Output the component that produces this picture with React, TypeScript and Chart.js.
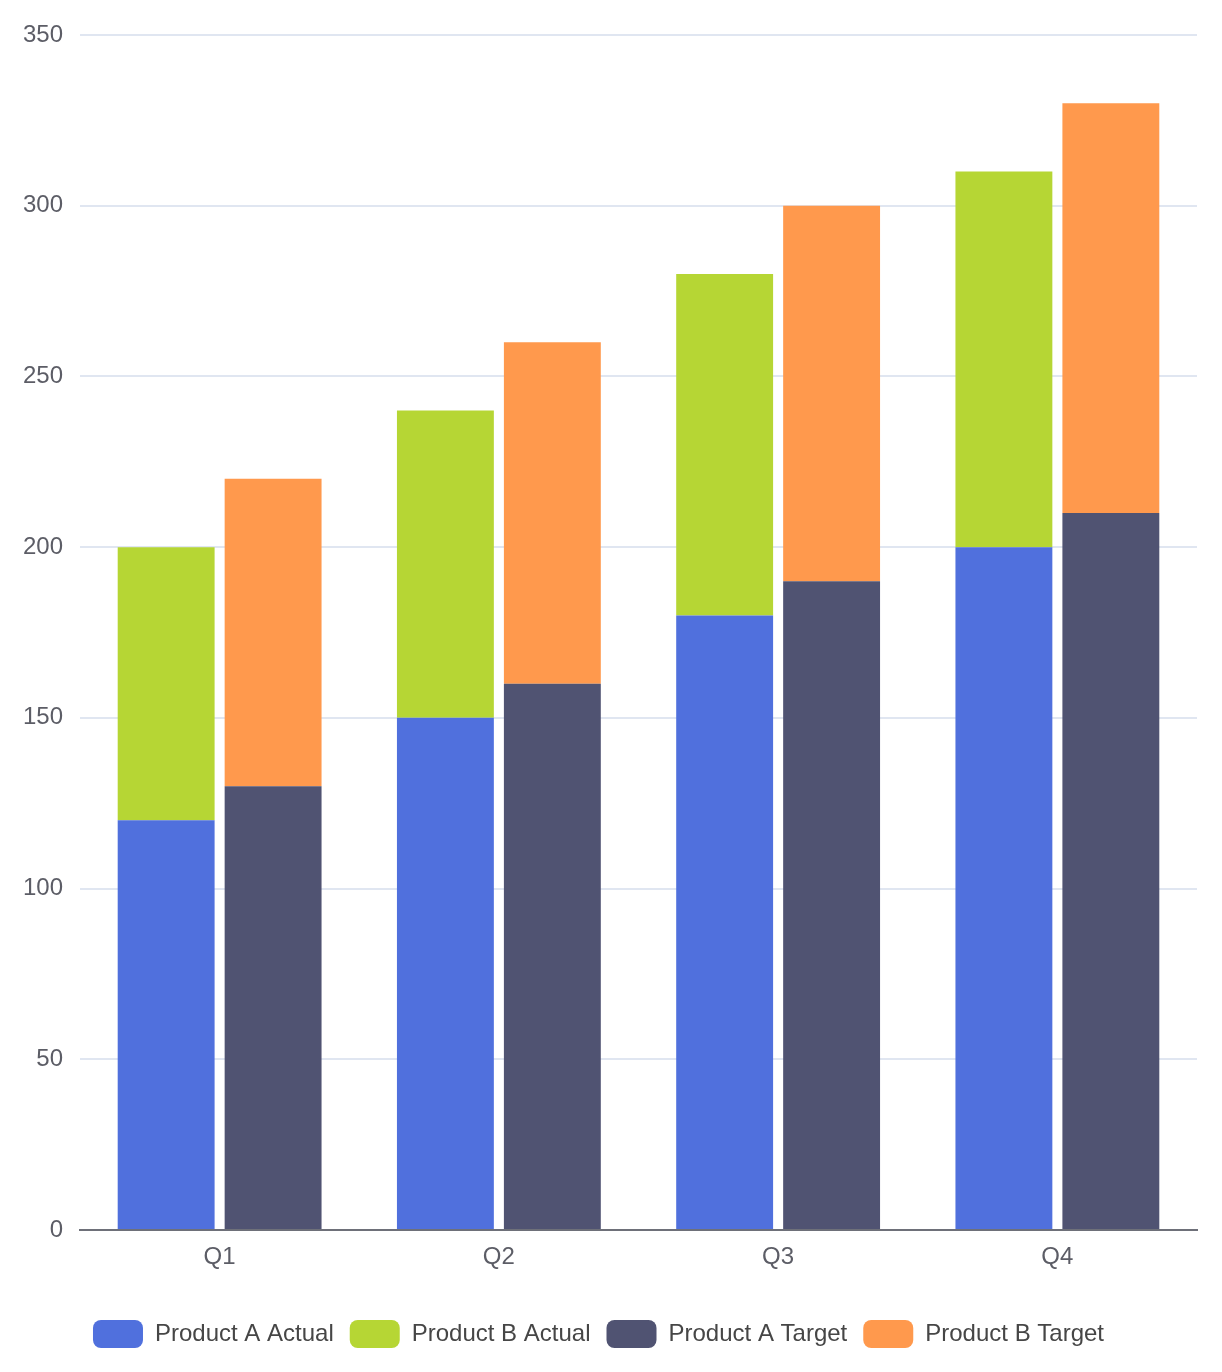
import { useEffect, useRef } from "react";
import { Chart, registerables } from "chart.js";

Chart.register(...registerables);

const quarters = ["Q1", "Q2", "Q3", "Q4"];
const productAActual = [120, 150, 180, 200];
const productBActual = [80, 90, 100, 110];
const productATarget = [130, 160, 190, 210];
const productBTarget = [90, 100, 110, 120];

const FONT = "'Liberation Sans', Arial, Helvetica, sans-serif";

const App = () => {
  const canvasRef = useRef<HTMLCanvasElement | null>(null);

  useEffect(() => {
    if (!canvasRef.current) return;
    const ctx = canvasRef.current.getContext("2d");
    if (!ctx) return;

    const chart = new Chart(ctx, {
      type: "bar",
      data: {
        labels: quarters,
        datasets: [
          {
            label: "Product A Actual",
            data: productAActual,
            backgroundColor: "#5070dd",
            stack: "actual",
          },
          {
            label: "Product B Actual",
            data: productBActual,
            backgroundColor: "#b6d634",
            stack: "actual",
          },
          {
            label: "Product A Target",
            data: productATarget,
            backgroundColor: "#505372",
            stack: "target",
          },
          {
            label: "Product B Target",
            data: productBTarget,
            backgroundColor: "#ff994d",
            stack: "target",
          },
        ],
      },
      options: {
        animation: false,
        responsive: true,
        maintainAspectRatio: false,
        categoryPercentage: 0.766,
        barPercentage: 0.906,
        layout: {
          padding: { top: 35, right: 25, bottom: 14, left: 0 },
        },
        plugins: {
          tooltip: { enabled: false },
          legend: {
            position: "bottom",
            labels: {
              boxWidth: 50,
              boxHeight: 28,
              padding: 16,
              useBorderRadius: true,
              borderRadius: 8,
              color: "#464646",
              font: { family: FONT, size: 24 },
            },
          },
        },
        scales: {
          x: {
            stacked: true,
            grid: { display: false, drawTicks: false },
            border: { display: true, color: "#6e7079", width: 2 },
            ticks: {
              color: "#5c5d66",
              padding: 13,
              font: { family: FONT, size: 24 },
            },
            afterFit: (scale) => {
              scale.height = 74;
            },
          },
          y: {
            stacked: true,
            min: 0,
            max: 350,
            grid: { color: "#e0e6f1", lineWidth: 2, drawTicks: false },
            border: { display: false },
            ticks: {
              stepSize: 50,
              color: "#5c5d66",
              padding: 17,
              font: { family: FONT, size: 24 },
            },
            afterFit: (scale) => {
              scale.width = 80;
            },
          },
        },
      },
    });

    return () => {
      chart.destroy();
    };
  }, []);

  return (
    <div
      style={{
        position: "fixed",
        left: 0,
        top: 0,
        width: 1222,
        height: 1372,
        background: "#fff",
      }}
    >
      <canvas ref={canvasRef}></canvas>
    </div>
  );
};

export default App;
